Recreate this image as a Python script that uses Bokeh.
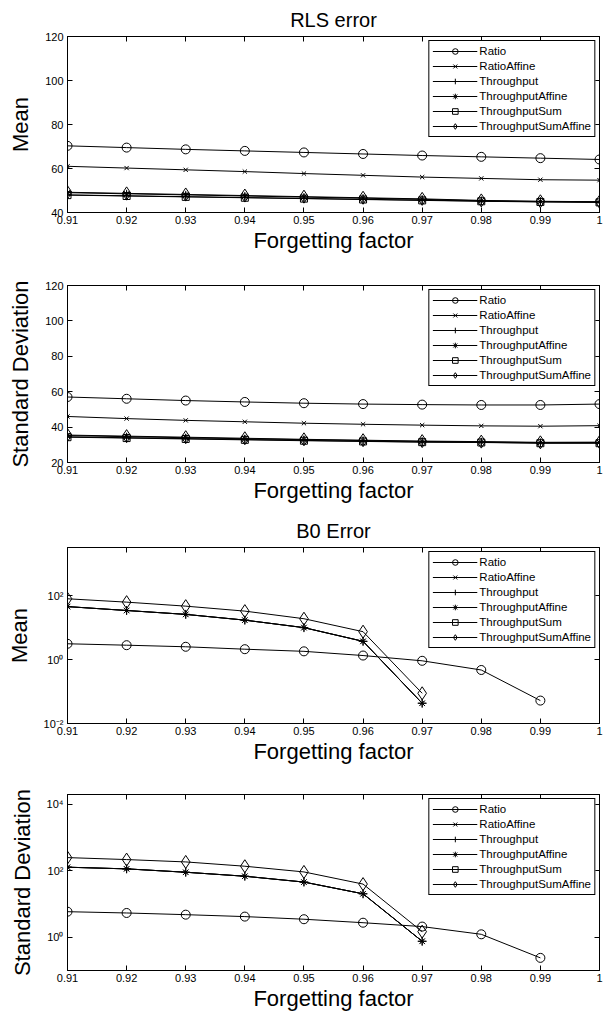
import math
from bokeh.plotting import figure
from bokeh.models import (LinearAxis, LogAxis, FixedTicker, CustomJSTickFormatter,
                          Range1d, Legend, LegendItem)
from bokeh.layouts import column
from bokeh.embed import file_html
from bokeh.resources import INLINE

nan = float("nan")

# ---------------- data ----------------
factor = [0.91, 0.92, 0.93, 0.94, 0.95, 0.96, 0.97, 0.98, 0.99, 1.00]
series_names = ["Ratio", "RatioAffine", "Throughput", "ThroughputAffine",
                "ThroughputSum", "ThroughputSumAffine"]

# RLS error - mean
rls_mean_ratio = [70.3, 69.5, 68.7, 68.0, 67.3, 66.6, 65.9, 65.3, 64.7, 64.1]
rls_mean_ratio_aff = [61.0, 60.2, 59.4, 58.6, 57.7, 56.9, 56.1, 55.5, 54.9, 54.7]
rls_mean_tp = [48.0, 47.6, 47.2, 46.8, 46.4, 46.0, 45.6, 45.2, 44.9, 44.7]
rls_mean_tp_aff = [49.0, 48.5, 48.0, 47.5, 47.0, 46.5, 46.0, 45.3, 45.0, 44.8]
rls_mean_tps = [47.9, 47.5, 47.1, 46.7, 46.3, 45.9, 45.5, 45.1, 44.8, 44.6]
rls_mean_tps_aff = [49.2, 48.7, 48.2, 47.7, 47.2, 46.7, 46.2, 45.5, 45.1, 44.9]

# RLS error - standard deviation
rls_std_ratio = [57.0, 56.0, 55.0, 54.2, 53.5, 53.0, 52.7, 52.5, 52.5, 53.0]
rls_std_ratio_aff = [46.0, 44.8, 43.8, 43.0, 42.2, 41.6, 41.1, 40.7, 40.5, 40.8]
rls_std_tp = [34.5, 34.0, 33.5, 33.0, 32.5, 32.0, 31.6, 31.4, 31.0, 31.0]
rls_std_tp_aff = [35.2, 34.6, 34.0, 33.4, 32.9, 32.4, 31.9, 31.6, 31.2, 31.3]
rls_std_tps = [34.3, 33.8, 33.3, 32.8, 32.3, 31.9, 31.5, 31.3, 30.9, 30.9]
rls_std_tps_aff = [35.5, 34.9, 34.3, 33.7, 33.1, 32.6, 32.1, 31.8, 31.4, 31.5]

# B0 error - mean (NaN where the original shows no mark)
b0_mean_ratio = [3.1, 2.8, 2.5, 2.1, 1.8, 1.33, 0.91, 0.47, 0.052, nan]
b0_mean_ratio_aff = [45.0, 34.0, 25.7, 17.0, 9.9, 3.7, 0.043, nan, nan, nan]
b0_mean_tp = [45.0, 34.0, 25.7, 17.0, 9.9, 3.7, 0.043, nan, nan, nan]
b0_mean_tp_aff = [45.0, 34.0, 25.7, 17.0, 9.9, 3.7, 0.043, nan, nan, nan]
b0_mean_tps = [nan, nan, nan, nan, nan, nan, nan, nan, nan, nan]
b0_mean_tps_aff = [79.0, 62.0, 46.5, 32.5, 18.8, 7.4, 0.088, nan, nan, nan]

# B0 error - standard deviation
b0_std_ratio = [5.9, 5.4, 4.8, 4.2, 3.5, 2.75, 2.1, 1.23, 0.24, nan]
b0_std_ratio_aff = [129.0, 115.0, 91.0, 69.0, 46.0, 20.4, 0.76, nan, nan, nan]
b0_std_tp = [129.0, 115.0, 91.0, 69.0, 46.0, 20.4, 0.76, nan, nan, nan]
b0_std_tp_aff = [129.0, 115.0, 91.0, 69.0, 46.0, 20.4, 0.76, nan, nan, nan]
b0_std_tps = [nan, nan, nan, nan, nan, nan, nan, nan, nan, nan]
b0_std_tps_aff = [251.0, 219.0, 186.0, 138.0, 93.0, 40.0, 1.48, nan, nan, nan]

rls_yticks = [40, 60, 80, 100, 120]
rls_std_yticks = [20, 40, 60, 80, 100, 120]
b0_mean_yticks = [1e-2, 1e0, 1e2]
b0_std_yticks = [1e0, 1e2, 1e4]

# ---------------- style ----------------
FONT = "Liberation Sans"
markers = {"Ratio": ("circle", 9), "RatioAffine": ("x", 6), "Throughput": ("cross", 9),
           "ThroughputAffine": ("asterisk", 8), "ThroughputSum": ("square", 7),
           "ThroughputSumAffine": ("diamond", 13)}

x_fmt_code = "return tick > 0.9995 ? '1' : tick.toFixed(2);"
log_fmt_code = """
const sup = {'-':'\u207b','0':'\u2070','1':'\u00b9','2':'\u00b2','3':'\u00b3','4':'\u2074',
             '5':'\u2075','6':'\u2076','7':'\u2077','8':'\u2078','9':'\u2079'};
const e = Math.round(Math.log10(tick));
return '10' + String(e).split('').map(c => sup[c]).join('');
"""
blank_fmt_code = "return '';"


def style_axis(ax, ticks, fmt_code=None, hidden=False):
    ax.ticker = FixedTicker(ticks=ticks)
    if hidden:
        ax.formatter = CustomJSTickFormatter(code=blank_fmt_code)
        ax.major_label_standoff = 0
    elif fmt_code is not None:
        ax.formatter = CustomJSTickFormatter(code=fmt_code)
    ax.axis_line_color = "black"
    ax.axis_line_width = 1
    ax.major_tick_in = 5
    ax.major_tick_out = 0
    ax.major_tick_line_color = "black"
    ax.minor_tick_line_color = None
    ax.major_label_text_font = FONT
    ax.major_label_text_font_size = "11px"
    ax.major_label_text_color = "black"
    ax.axis_label_text_font = FONT
    ax.axis_label_text_font_size = "22px"
    ax.axis_label_text_font_style = "normal"
    ax.axis_label_text_color = "black"


def make_panel(title, ylabel, ys, log, yrange, yticks, height, top, bottom):
    kw = dict(width=609, height=height, output_backend="svg", toolbar_location=None,
              x_range=Range1d(factor[0], factor[-1]), y_range=Range1d(*yrange),
              min_border_left=67, min_border_right=10, min_border_top=top,
              min_border_bottom=bottom)
    if log:
        kw["y_axis_type"] = "log"
    p = figure(**kw)
    if title:
        p.title.text = title
        p.title.text_font = FONT
        p.title.text_font_size = "20px"
        p.title.text_font_style = "normal"
        p.title.text_color = "black"
        p.title.align = "center"
        p.title.standoff = 12
    p.grid.visible = False
    p.outline_line_color = "black"
    p.background_fill_color = "white"
    p.border_fill_color = "white"

    style_axis(p.xaxis[0], factor, x_fmt_code)
    p.xaxis[0].axis_label = "Forgetting factor"
    p.xaxis[0].major_label_standoff = 3
    p.xaxis[0].axis_label_standoff = 1
    style_axis(p.yaxis[0], yticks, log_fmt_code if log else None)
    p.yaxis[0].axis_label = ylabel
    p.yaxis[0].major_label_standoff = 4
    p.yaxis[0].axis_label_standoff = 9

    top_ax = LinearAxis()
    style_axis(top_ax, factor, hidden=True)
    p.add_layout(top_ax, "above")
    right_ax = LogAxis() if log else LinearAxis()
    style_axis(right_ax, yticks, hidden=True)
    p.add_layout(right_ax, "right")

    items = []
    for name, y in zip(series_names, ys):
        m, s = markers[name]
        lr = p.line(factor, y, line_color="black", line_width=1)
        sr = p.scatter(factor, y, marker=m, size=s, line_color="black",
                       fill_color="white", fill_alpha=0.0, line_width=1)
        items.append(LegendItem(label=name, renderers=[lr, sr]))
    leg = Legend(items=items, location="top_right")
    leg.border_line_color = "black"
    leg.border_line_width = 1.5
    leg.border_line_alpha = 1
    leg.background_fill_color = "white"
    leg.background_fill_alpha = 1
    leg.label_text_font = FONT
    leg.label_text_font_size = "11.5px"
    leg.label_text_color = "black"
    leg.label_height = 14
    leg.glyph_height = 14
    leg.glyph_width = 45
    leg.label_standoff = 2
    leg.spacing = 1
    leg.padding = 3
    leg.margin = 4
    p.add_layout(leg, "center")
    return p


p1 = make_panel("RLS error", "Mean",
                [rls_mean_ratio, rls_mean_ratio_aff, rls_mean_tp, rls_mean_tp_aff,
                 rls_mean_tps, rls_mean_tps_aff],
                False, (40, 120), rls_yticks, 255, 35, 43)
p2 = make_panel(None, "Standard Deviation",
                [rls_std_ratio, rls_std_ratio_aff, rls_std_tp, rls_std_tp_aff,
                 rls_std_tps, rls_std_tps_aff],
                False, (20, 120), rls_std_yticks, 250, 30, 43)
p3 = make_panel("B0 Error", "Mean",
                [b0_mean_ratio, b0_mean_ratio_aff, b0_mean_tp, b0_mean_tp_aff,
                 b0_mean_tps, b0_mean_tps_aff],
                True, (1e-2, 10 ** 3.5), b0_mean_yticks, 261, 42, 43)
p4 = make_panel(None, "Standard Deviation",
                [b0_std_ratio, b0_std_ratio_aff, b0_std_tp, b0_std_tp_aff,
                 b0_std_tps, b0_std_tps_aff],
                True, (1e-1, 10 ** 4.3), b0_std_yticks, 250, 28, 46)

layout = column(p1, p2, p3, p4, spacing=0)
open("out.html", "w").write(file_html(layout, INLINE))
